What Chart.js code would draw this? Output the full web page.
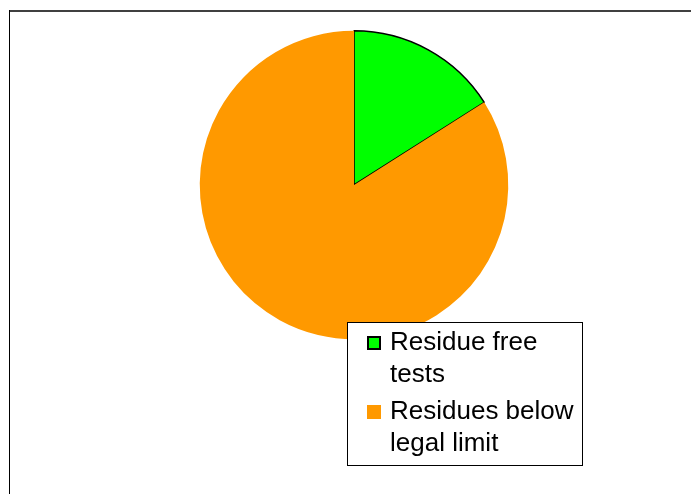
<!DOCTYPE html>
<html>
<head>
<meta charset="utf-8">
<script src="https://cdn.jsdelivr.net/npm/chart.js@4"></script>
<style>
  html, body { margin: 0; padding: 0; background: #fff; }
  #wrap { width: 691px; height: 494px; }
</style>
</head>
<body>
<div id="wrap"><canvas id="pie" width="691" height="494"></canvas></div>
<script>
var labels = ['Residue free tests', 'Residues below legal limit'];
// legend lines, wrapped as in the picture
var legendLines = [['Residue free', 'tests'], ['Residues below', 'legal limit']];
var values = [16, 84];

var chartColors = {
	green: '#00ff00',
	orange: '#ff9900'
};

// frame lines and the boxed legend, drawn on the canvas
var framePlugin = {
	id: 'frame',
	beforeDraw: function(chart) {
		var c = chart.ctx;
		c.save();
		c.fillStyle = '#404040';
		c.fillRect(9, 10, 682, 2);
		c.fillStyle = '#000';
		c.fillRect(9, 10, 1, 484);
		c.restore();
	},
	afterDraw: function(chart) {
		var c = chart.ctx;
		var ds = chart.data.datasets[0];
		c.save();
		c.fillStyle = '#fff';
		c.fillRect(347, 322, 236, 144);
		c.strokeStyle = '#000';
		c.lineWidth = 1;
		c.strokeRect(347.5, 322.5, 235, 143);
		c.font = '26px "Liberation Sans", Arial, sans-serif';
		c.textBaseline = 'middle';
		var y = 343;
		legendLines.forEach(function(lines, i) {
			c.fillStyle = ds.backgroundColor[i];
			c.fillRect(367, y - 7, 14, 14);
			if (ds.borderWidth[i] > 0) {
				c.strokeStyle = '#000';
				c.lineWidth = 2;
				c.strokeRect(368, y - 6, 12, 12);
			}
			c.fillStyle = '#000';
			lines.forEach(function(t, j) {
				c.fillText(t, 390, y + j * 32);
			});
			y += 69;
		});
		c.restore();
	}
};

var myPieChart = new Chart(document.getElementById('pie'), {
	type: 'pie',
	data: {
		labels: labels,
		datasets: [{
			data: values,
			backgroundColor: [chartColors.green, chartColors.orange],
			borderColor: ['#000', chartColors.orange],
			borderWidth: [1.5, 0]
		}]
	},
	options: {
		responsive: false,
		animation: false,
		layout: { padding: { left: 199, right: 182, top: 30, bottom: 154 } },
		plugins: {
			legend: { display: false },
			tooltip: { enabled: false }
		}
	},
	plugins: [framePlugin]
});
</script>
</body>
</html>
